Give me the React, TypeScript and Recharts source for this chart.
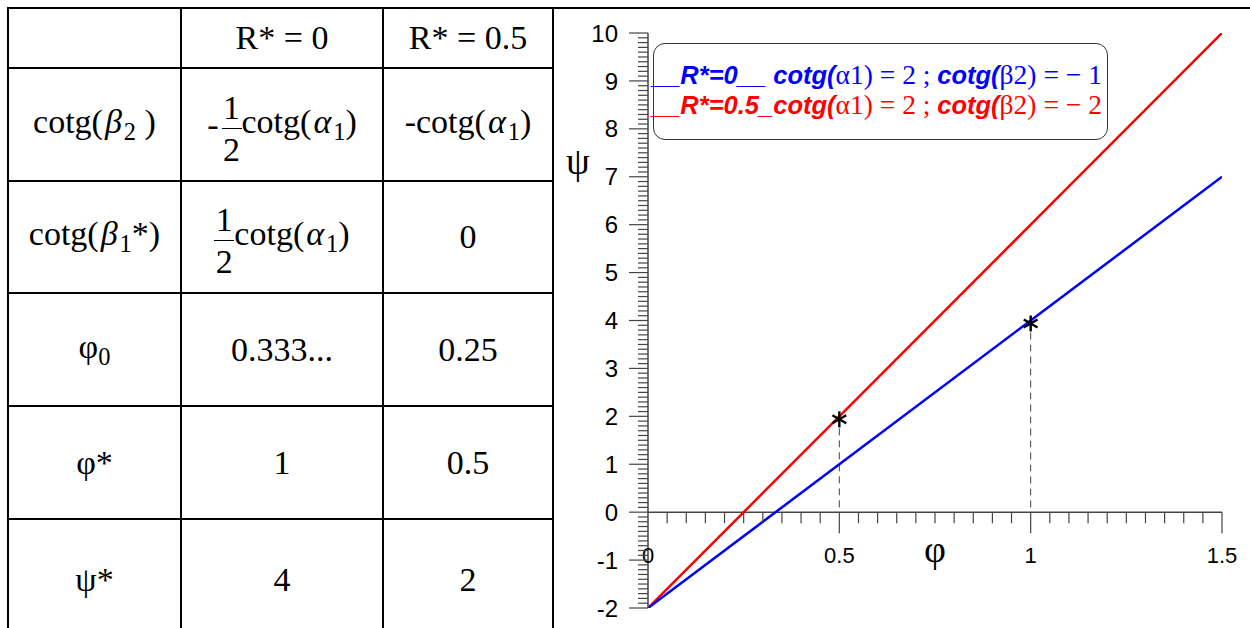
import { ComposedChart, Line, XAxis, YAxis, ReferenceLine, ReferenceDot, Legend } from "recharts";

// series: psi as a function of phi, one line per R*
const phi = [0, 0.5, 1, 1.5];
const psiR0 = [-2, 1, 4, 7];
const psiR05 = [-2, 2, 6, 10];

// marked points (phi*, psi*)
const starPhi = [0.5, 1];
const starPsi = [2, 4];

// axis ticks
const yMajorTicks = [-2, -1, 0, 1, 2, 3, 4, 5, 6, 7, 8, 9, 10];
const xTickValues = [0, 0.5, 1, 1.5];
const xTickLabels = ["0", "0.5", "1", "1.5"];

// legend text
const legendNames = ["__R*=0__ ", "__R*=0.5_"];
const legendAlpha = ["2", "2"];
const legendBeta = ["\u2212 1", "\u2212 2"];
const legendColors = ["#0000ff", "#ff0000"];

const data = phi.map((p, i) => ({ phi: p, r0: psiR0[i], r05: psiR05[i] }));

// 10 sub divisions between majors
const subdivide = (majors: number[]) => {
    const out: number[] = [];
    for (let i = 0; i < majors.length - 1; i++) {
        for (let k = 0; k < 10; k++) out.push(Math.round((majors[i] + (k * (majors[i + 1] - majors[i])) / 10) * 1000) / 1000);
    }
    out.push(majors[majors.length - 1]);
    return out;
};
const yTicks = subdivide(yMajorTicks);
const xTicks = subdivide([0, 0.5, 1, 1.5]).filter((t) => t > 0);

const axisColor = "#444";
const sans = '"Liberation Sans", Arial, sans-serif';
const serif = '"Liberation Serif", "Times New Roman", serif';

const isMajor = (v: number) => Math.abs(v * 2 - Math.round(v * 2)) < 1e-6;

const renderYTick = (props: any) => {
    const { x, y, payload } = props;
    const v = payload.value as number;
    const major = Math.abs(v - Math.round(v)) < 1e-6;
    return (
        <g>
            <line x1={x - (major ? 19 : 10)} x2={x} y1={y} y2={y} stroke={axisColor} strokeWidth={1.2} />
            {major && (
                <text x={x - 30} y={y} dy="0.36em" textAnchor="end" fontSize={24} fontFamily={sans} fill="#000">
                    {v}
                </text>
            )}
        </g>
    );
};

const xTickShape = (t: number) => (props: any) => {
    const { cx, cy } = props;
    return <line x1={cx} x2={cx} y1={cy} y2={cy + (isMajor(t) ? 21 : 11)} stroke={axisColor} strokeWidth={1.2} />;
};

const xLabelShape = (label: string) => (props: any) => {
    const { cx, cy } = props;
    return (
        <text x={cx} y={cy + 43} dy="0.36em" textAnchor="middle" fontSize={22} fontFamily={sans} fill="#000">
            {label}
        </text>
    );
};

const asterisk = (props: any) => {
    const { cx } = props;
    const cy = props.cy + 3;
    const r = 8;
    const a = (Math.PI / 180) * 30;
    return (
        <g stroke="#000" strokeWidth={2.4}>
            <line x1={cx} x2={cx} y1={cy - r} y2={cy + r} />
            <line x1={cx - r * Math.cos(a)} x2={cx + r * Math.cos(a)} y1={cy - r * Math.sin(a)} y2={cy + r * Math.sin(a)} />
            <line x1={cx - r * Math.cos(a)} x2={cx + r * Math.cos(a)} y1={cy + r * Math.sin(a)} y2={cy - r * Math.sin(a)} />
        </g>
    );
};

const textShape = (label: string, dx: number, dy: number) => (props: any) => {
    const { cx, cy } = props;
    return (
        <text x={cx + dx} y={cy + dy} dy="0.36em" textAnchor="middle" fontSize={38} fontFamily={serif} fill="#000">
            {label}
        </text>
    );
};

const LegendBox = () => (
    <div
        style={{
            width: 455,
            height: 97,
            boxSizing: "border-box",
            border: "1.5px solid #333",
            borderRadius: 12,
            paddingTop: 16,
            background: "#fff",
        }}
    >
        {legendNames.map((name, i) => (
            <div key={name} style={{ color: legendColors[i], height: 30, lineHeight: "30px", whiteSpace: "nowrap", marginLeft: -2 }}>
                <span style={{ fontFamily: sans, fontWeight: "bold", fontStyle: "italic", fontSize: 25.5 }}>{name}cotg(</span>
                <span style={{ fontFamily: serif, fontSize: 27.5 }}>{"\u03b11) = " + legendAlpha[i] + " ; "}</span>
                <span style={{ fontFamily: sans, fontWeight: "bold", fontStyle: "italic", fontSize: 25.5 }}>cotg(</span>
                <span style={{ fontFamily: serif, fontSize: 27.5 }}>{"\u03b22) = " + legendBeta[i]}</span>
            </div>
        ))}
    </div>
);

const Chart = () => (
    <ComposedChart width={690} height={618} data={data} margin={{ top: 23, right: 28, bottom: 20, left: 0 }}>
        <XAxis type="number" dataKey="phi" domain={[0, 1.5]} hide allowDataOverflow />
        <YAxis
            type="number"
            domain={[-2, 10]}
            ticks={yTicks}
            interval={0}
            width={88}
            tickSize={0}
            tickMargin={0}
            tickLine={false}
            axisLine={{ stroke: axisColor, strokeWidth: 1.5 }}
            tick={renderYTick}
            allowDataOverflow
        />
        <ReferenceLine y={0} stroke={axisColor} strokeWidth={1.5} />
        {xTicks.map((t) => (
            <ReferenceDot key={"xt" + t} x={t} y={0} r={0} shape={xTickShape(t)} ifOverflow="visible" />
        ))}
        {xTickValues.map((t, i) => (
            <ReferenceDot key={"xl" + t} x={t} y={0} r={0} shape={xLabelShape(xTickLabels[i])} ifOverflow="visible" />
        ))}
        {starPhi.map((p, i) => (
            <ReferenceLine
                key={"d" + p}
                segment={[
                    { x: p, y: starPsi[i] },
                    { x: p, y: 0 },
                ]}
                stroke={axisColor}
                strokeWidth={1}
                strokeDasharray="7 5"
            />
        ))}
        <Line type="linear" dataKey="r05" stroke="#ff0000" strokeWidth={2.5} dot={false} activeDot={false} isAnimationActive={false} />
        <Line type="linear" dataKey="r0" stroke="#0000ff" strokeWidth={2.5} dot={false} activeDot={false} isAnimationActive={false} />
        {starPhi.map((p, i) => (
            <ReferenceDot key={"s" + p} x={p} y={starPsi[i]} r={0} shape={asterisk} ifOverflow="visible" />
        ))}
        <ReferenceDot x={0.75} y={0} r={0} shape={textShape("\u03c6", 0, 36)} ifOverflow="visible" />
        <ReferenceDot x={0} y={7.35} r={0} shape={textShape("\u03c8", -70, 0)} ifOverflow="visible" />
        <Legend layout="vertical" align="center" verticalAlign="middle" wrapperStyle={{ left: 93, top: 33, width: 455 }} content={() => <LegendBox />} />
    </ComposedChart>
);

// table geometry
const colX = [8, 181, 383, 553];
const rowY = [8, 68, 181, 293, 406, 519, 640];

const Frac = ({ minus }: { minus?: boolean }) => (
    <span style={{ display: "inline-flex", alignItems: "center", verticalAlign: "middle" }}>
        {minus && <span style={{ marginRight: 3 }}>-</span>}
        <span style={{ display: "inline-flex", flexDirection: "column", alignItems: "center", lineHeight: 1, marginTop: 8 }}>
            <span>1</span>
            <span style={{ borderTop: "1.5px solid #000", width: 20, height: 0, margin: "3px 0 4px" }} />
            <span>2</span>
        </span>
    </span>
);

const Sub = ({ children }: { children: any }) => <sub style={{ fontSize: "0.72em", verticalAlign: "-0.3em" }}>{children}</sub>;
const Gr = ({ children }: { children: any }) => <i style={{ margin: "0 2px" }}>{children}</i>;

const cells: any[][] = [
    [null, "R* = 0", "R* = 0.5"],
    [
        <span>cotg(<Gr>β</Gr><Sub>2</Sub> )</span>,
        <span style={{ display: "inline-flex", alignItems: "center" }}><Frac minus /><span>cotg(<Gr>α</Gr><Sub>1</Sub>)</span></span>,
        <span>-cotg(<Gr>α</Gr><Sub>1</Sub>)</span>,
    ],
    [
        <span>cotg(<Gr>β</Gr><Sub>1</Sub>*)</span>,
        <span style={{ display: "inline-flex", alignItems: "center" }}><Frac /><span>cotg(<Gr>α</Gr><Sub>1</Sub>)</span></span>,
        "0",
    ],
    [<span>φ<Sub>0</Sub></span>, "0.333...", "0.25"],
    ["φ*", "1", "0.5"],
    ["ψ*", "4", "2"],
];

const Table = () => (
    <>
        {rowY.slice(0, -1).map((y) => (
            <div key={"h" + y} style={{ position: "absolute", left: colX[0] - 1, top: y - 1, width: colX[3] - colX[0] + 2, height: 2, background: "#000" }} />
        ))}
        {colX.map((x) => (
            <div key={"v" + x} style={{ position: "absolute", left: x - 1, top: rowY[0] - 1, width: 2, height: 640, background: "#000" }} />
        ))}
        {cells.map((row, r) =>
            row.map((c, k) => (
                <div
                    key={r + "-" + k}
                    style={{
                        position: "absolute",
                        left: colX[k],
                        top: rowY[r],
                        width: colX[k + 1] - colX[k],
                        height: rowY[r + 1] - rowY[r],
                        display: "flex",
                        alignItems: "center",
                        justifyContent: "center",
                        fontFamily: serif,
                        fontSize: 34,
                        whiteSpace: "nowrap",
                    }}
                >
                    {c}
                </div>
            ))
        )}
    </>
);

export default function App() {
    return (
        <div style={{ position: "relative", width: 1250, height: 628, overflow: "hidden", background: "#fff" }}>
            <style>{"body{margin:0;overflow:hidden}"}</style>
            <div style={{ position: "absolute", left: 7, top: 7, width: 1243, height: 2, background: "#000" }} />
            <Table />
            <div style={{ position: "absolute", left: 560, top: 10 }}>
                <Chart />
            </div>
        </div>
    );
}
